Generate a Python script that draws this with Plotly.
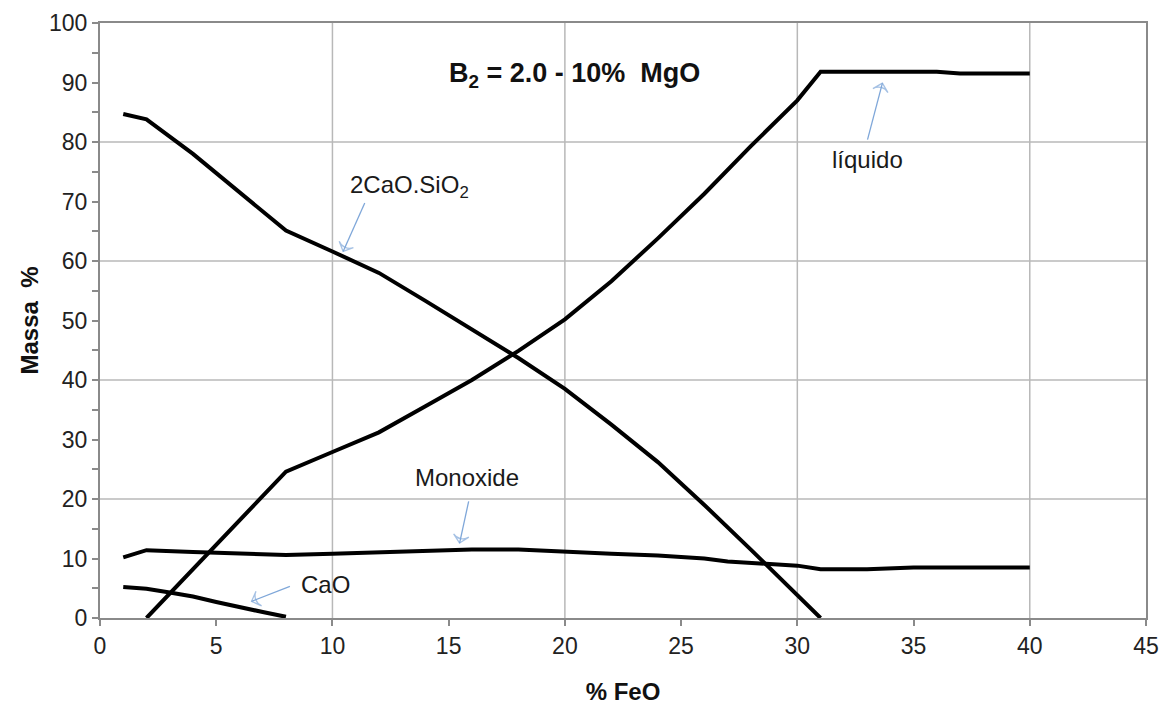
import plotly.graph_objects as go

# % FeO and mass % of each phase
x_c2s = [1, 2, 4, 6, 8, 10, 12, 14, 16, 18, 20, 22, 24, 26, 28, 30, 31]
y_c2s = [84.7, 83.8, 78.0, 71.6, 65.1, 61.6, 58.0, 53.3, 48.5, 43.7, 38.5, 32.5, 26.2, 19.0, 11.5, 3.9, 0.0]

x_liq = [2, 8, 10, 12, 14, 16, 18, 20, 22, 24, 26, 28, 30, 31, 36, 37, 40]
y_liq = [0.0, 24.6, 27.9, 31.2, 35.6, 40.0, 44.9, 50.2, 56.6, 63.8, 71.3, 79.3, 87.0, 91.8, 91.8, 91.5, 91.5]

x_mono = [1, 2, 4, 6, 8, 10, 12, 14, 16, 18, 20, 22, 24, 26, 27, 28, 30, 31, 33, 35, 40]
y_mono = [10.2, 11.4, 11.1, 10.9, 10.6, 10.8, 11.0, 11.3, 11.5, 11.5, 11.1, 10.8, 10.5, 10.0, 9.5, 9.3, 8.8, 8.2, 8.2, 8.5, 8.5]

x_cao = [1, 2, 3, 4, 5, 6, 7, 8]
y_cao = [5.2, 4.9, 4.3, 3.6, 2.7, 1.8, 1.0, 0.2]

x_ticks = list(range(0, 50, 5))
y_ticks = list(range(0, 110, 10))
x_grid = [10, 20, 30, 40]
y_grid = [20, 40, 60, 80]

FONT = "Liberation Sans, Arial, sans-serif"
LINE = dict(color="black", width=4)

fig = go.Figure()
for xs, ys, nm in [(x_c2s, y_c2s, "2CaO.SiO2"), (x_liq, y_liq, "líquido"),
                   (x_mono, y_mono, "Monoxide"), (x_cao, y_cao, "CaO")]:
    fig.add_trace(go.Scatter(x=xs, y=ys, mode="lines", line=LINE, name=nm,
                             showlegend=False, hoverinfo="skip"))

for g in x_grid:
    fig.add_vline(x=g, line=dict(color="#b8b8b8", width=1.5), layer="below")
for g in y_grid:
    fig.add_hline(y=g, line=dict(color="#b8b8b8", width=1.5), layer="below")

arrow_col = "#7fa7d9"
labels = [
    (13.3, 72.5, "2CaO.SiO<sub>2</sub>"),
    (33.0, 77.0, "líquido"),
    (15.8, 23.6, "Monoxide"),
    (9.7, 5.6, "CaO"),
]
for lx, ly, t in labels:
    fig.add_annotation(x=lx, y=ly, text=t, showarrow=False,
                       font=dict(family=FONT, size=24, color="#1a1a1a"))

# label arrows (tail -> tip)
arrows = [
    (11.39, 69.75, 10.46, 61.6),
    (33.02, 80.4, 33.66, 89.9),
    (15.86, 19.6, 15.47, 12.6),
    (8.17, 5.3, 6.52, 2.8),
]
for tx, ty, hx, hy in arrows:
    fig.add_trace(go.Scatter(
        x=[tx, hx], y=[ty, hy], mode="lines+markers",
        line=dict(color=arrow_col, width=1.3),
        marker=dict(symbol=["circle", "arrow-wide-open"], size=[0, 11],
                    angleref="previous", color=arrow_col,
                    line=dict(color=arrow_col, width=1.3)),
        showlegend=False, hoverinfo="skip"))

fig.add_annotation(x=20.4, y=91.3, text="<b>B<sub>2</sub> = 2.0 - 10%\u00a0\u00a0MgO</b>",
                   showarrow=False, font=dict(family=FONT, size=27, color="#111"))

axis_common = dict(showgrid=False, zeroline=False, showline=True, mirror=True,
                   linecolor="#8a8a8a", linewidth=2, ticks="outside", ticklen=6,
                   tickwidth=1.5, tickcolor="#8a8a8a", automargin=False,
                   tickfont=dict(family=FONT, size=23, color="#222"))

fig.update_layout(
    width=1161, height=706,
    margin=dict(l=100, r=15, t=23, b=88),
    plot_bgcolor="white", paper_bgcolor="white",
    xaxis=dict(range=[0, 45], tickvals=x_ticks, ticktext=[str(v) for v in x_ticks],
               title=dict(text="<b>% FeO</b>", font=dict(family=FONT, size=24, color="#111"),
                          standoff=26),
               **axis_common),
    yaxis=dict(range=[0, 100], tickvals=y_ticks, ticktext=[str(v) for v in y_ticks],
               minor=dict(ticks="outside", dtick=5, ticklen=6, tickwidth=1.5,
                          tickcolor="#8a8a8a", showgrid=False),
               title=dict(text="<b>Massa\u00a0\u00a0%</b>", font=dict(family=FONT, size=24, color="#111"),
                          standoff=4),
               **axis_common),
)

fig.write_html("out.html", config={"displayModeBar": False},
               post_script="document.body.style.margin='0';document.body.style.overflow='hidden';")
